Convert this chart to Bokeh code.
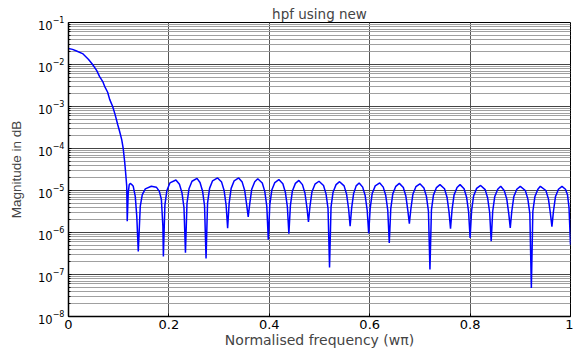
import numpy as np
from bokeh.plotting import figure
from bokeh.models import FixedTicker, Range1d
from bokeh.embed import file_html
from bokeh.resources import INLINE

# Passband (normalised frequency, log10 magnitude)
pass_f = [0.000, 0.008, 0.016, 0.028, 0.040, 0.048, 0.056, 0.062, 0.068, 0.072,
          0.078, 0.082, 0.088, 0.093, 0.098, 0.102, 0.106, 0.109, 0.112, 0.114, 0.116]
pass_log = [-1.62, -1.64, -1.68, -1.74, -1.88, -2.00, -2.14, -2.29, -2.40, -2.52,
            -2.66, -2.83, -3.00, -3.20, -3.43, -3.60, -3.79, -4.00, -4.33, -4.60, -4.90]

# Stopband ripple (normalised frequency, log10 magnitude)
stop_f = [
    0.117, 0.119, 0.121, 0.123, 0.126, 0.129, 0.133, 0.136,
    0.139, 0.143, 0.147, 0.153, 0.165, 0.175, 0.181, 0.185, 0.188,
    0.189, 0.192, 0.196, 0.202, 0.214, 0.221, 0.226, 0.230,
    0.233, 0.236, 0.240, 0.246, 0.256, 0.262, 0.267, 0.271,
    0.274, 0.277, 0.281, 0.287, 0.297, 0.305, 0.310, 0.314,
    0.317, 0.320, 0.324, 0.330, 0.339, 0.346, 0.351, 0.355,
    0.358, 0.361, 0.365, 0.371, 0.377, 0.386, 0.391, 0.395,
    0.398, 0.401, 0.405, 0.411, 0.419, 0.427, 0.432, 0.436,
    0.439, 0.442, 0.446, 0.452, 0.459, 0.466, 0.471, 0.475,
    0.478, 0.481, 0.485, 0.491, 0.499, 0.508, 0.513, 0.517,
    0.520, 0.523, 0.527, 0.533, 0.540, 0.549, 0.554, 0.558,
    0.561, 0.564, 0.568, 0.573, 0.579, 0.586, 0.591, 0.595,
    0.598, 0.601, 0.605, 0.611, 0.620, 0.627, 0.632, 0.636,
    0.639, 0.642, 0.646, 0.652, 0.659, 0.667, 0.672, 0.676,
    0.679, 0.682, 0.686, 0.692, 0.700, 0.708, 0.713, 0.717,
    0.720, 0.723, 0.727, 0.733, 0.740, 0.749, 0.754, 0.758,
    0.761, 0.764, 0.768, 0.774, 0.780, 0.788, 0.793, 0.797,
    0.800, 0.803, 0.807, 0.813, 0.821, 0.830, 0.835, 0.839,
    0.842, 0.845, 0.849, 0.855, 0.861, 0.868, 0.873, 0.877,
    0.880, 0.883, 0.887, 0.893, 0.900, 0.910, 0.915, 0.919,
    0.922, 0.925, 0.929, 0.935, 0.940, 0.951, 0.956, 0.960,
    0.963, 0.966, 0.970, 0.976, 0.983, 0.990, 0.994, 0.997, 1.000]
stop_log = [
    -5.73, -5.05, -4.86, -4.83, -4.86, -4.90, -5.14, -5.61,
    -6.45, -5.37, -5.10, -4.96, -4.90, -4.92, -5.02, -5.21, -5.85,
    -6.57, -5.35, -5.00, -4.82, -4.75, -4.85, -5.05, -5.40,
    -6.48, -5.31, -4.96, -4.78, -4.71, -4.81, -5.01, -5.36,
    -6.62, -5.30, -4.95, -4.77, -4.70, -4.80, -5.00, -5.35,
    -5.90, -5.30, -4.95, -4.77, -4.70, -4.80, -5.00, -5.35,
    -5.63, -5.32, -4.97, -4.79, -4.72, -4.82, -5.02, -5.37,
    -6.17, -5.34, -4.99, -4.81, -4.74, -4.84, -5.04, -5.39,
    -6.03, -5.36, -5.01, -4.83, -4.76, -4.86, -5.06, -5.41,
    -5.75, -5.38, -5.03, -4.85, -4.78, -4.88, -5.08, -5.43,
    -6.83, -5.39, -5.04, -4.86, -4.79, -4.89, -5.09, -5.44,
    -5.85, -5.42, -5.07, -4.89, -4.82, -4.92, -5.12, -5.47,
    -6.02, -5.42, -5.07, -4.89, -4.82, -4.92, -5.12, -5.47,
    -6.25, -5.43, -5.08, -4.90, -4.83, -4.93, -5.13, -5.48,
    -5.79, -5.44, -5.09, -4.91, -4.84, -4.94, -5.14, -5.49,
    -6.88, -5.46, -5.11, -4.93, -4.86, -4.96, -5.16, -5.51,
    -5.91, -5.46, -5.11, -4.93, -4.86, -4.96, -5.16, -5.51,
    -6.13, -5.48, -5.13, -4.95, -4.88, -4.98, -5.18, -5.53,
    -6.21, -5.50, -5.15, -4.97, -4.90, -5.00, -5.20, -5.55,
    -5.89, -5.50, -5.15, -4.97, -4.90, -5.00, -5.20, -5.55,
    -7.32, -5.50, -5.15, -4.97, -4.90, -5.00, -5.20, -5.55,
    -5.86, -5.50, -5.15, -4.97, -4.90, -4.97, -5.10, -5.40, -6.29]

x_ticks = [0, 0.2, 0.4, 0.6, 0.8, 1]
y_decades = [-8, -7, -6, -5, -4, -3, -2, -1]

freq = pass_f + stop_f
mag = [10 ** v for v in pass_log + stop_log]

p = figure(width=573, height=352, output_backend="svg", toolbar_location=None,
           y_axis_type="log", x_range=Range1d(0, 1),
           y_range=Range1d(1e-8, 1e-1),
           min_border_left=68, min_border_right=3, min_border_top=22, min_border_bottom=36,
           title="hpf using new")

p.line(freq, mag, line_color="#0000ff", line_width=1.5)

major = [10.0 ** d for d in y_decades]
minor = [k * 10.0 ** d for d in y_decades[:-1] for k in range(2, 10)]
p.yaxis.ticker = FixedTicker(ticks=major, minor_ticks=minor)
p.xaxis.ticker = FixedTicker(ticks=x_ticks)

wide = "DejaVu Sans"
narrow = "Liberation Sans"
p.title.text_font = wide
p.title.text_font_size = "13.5px"
p.title.text_font_style = "normal"
p.title.align = "center"
p.title.offset = 0
p.title.standoff = 2

p.xaxis.axis_label = "Normalised frequency (w\u03c0)"
p.yaxis.axis_label = "Magnitude in dB"
for ax in (p.xaxis, p.yaxis):
    ax.axis_label_text_font_style = "normal"
    ax.major_label_text_color = "black"
    ax.axis_line_color = "black"
    ax.axis_line_width = 1.5
    ax.major_tick_in = 3
    ax.major_tick_out = 0
    ax.minor_tick_in = 2
    ax.minor_tick_out = 0
    ax.major_tick_line_color = "black"
    ax.minor_tick_line_color = "black"

p.xaxis.major_label_text_font = wide
p.xaxis.major_label_text_font_size = "13px"
p.xaxis.major_label_standoff = 3
p.xaxis.axis_label_text_font = wide
p.xaxis.axis_label_text_font_size = "14px"
p.xaxis.axis_label_standoff = 0

p.yaxis.major_label_text_font = wide
p.yaxis.major_label_text_font_size = "11.5px"
p.yaxis.major_label_standoff = 4
p.yaxis.axis_label_text_font = narrow
p.yaxis.axis_label_text_font_size = "13.5px"
p.yaxis.axis_label_standoff = 11

p.xgrid.grid_line_color = "#555555"
p.xgrid.grid_line_width = 1
p.ygrid.grid_line_color = "#444444"
p.ygrid.grid_line_width = 1
p.ygrid.minor_grid_line_color = "#a0a0a0"
p.ygrid.minor_grid_line_width = 1

p.outline_line_color = "black"
p.outline_line_width = 1
p.background_fill_color = "white"
p.border_fill_color = "white"

open("out.html", "w").write(file_html(p, INLINE))
